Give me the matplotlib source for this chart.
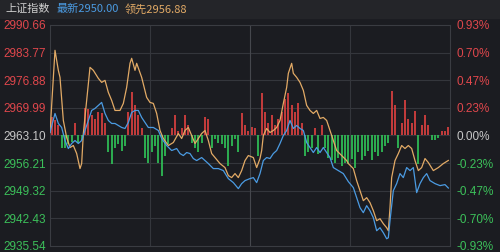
import numpy as np
import matplotlib
matplotlib.use("Agg")
import matplotlib.pyplot as plt

PREV_CLOSE = 2963.10
PRICE_TICKS = [2990.66, 2983.77, 2976.88, 2969.99, 2963.10, 2956.21, 2949.32, 2942.43, 2935.54]
PCT_LABELS = ["0.93%", "0.70%", "0.47%", "0.23%", "0.00%", "-0.23%", "-0.47%", "-0.70%", "-0.93%"]

# 领先 (leading index) - minute, price
lead_t = [0, 3, 5, 6, 8, 10, 12, 14, 16, 18, 19, 20, 22, 24, 26, 29, 31, 33, 35, 37, 39, 42, 44, 46,
          48, 49, 51, 52, 55, 58, 60, 62, 64, 66, 68, 71, 74, 77, 79, 81, 83, 85, 87, 89, 91, 93, 95,
          97, 99, 102, 105, 107, 109, 111, 113, 115, 117, 119, 122, 124, 126, 127, 128, 130, 132, 134,
          136, 138, 140, 142, 143, 145, 146, 148, 150, 152, 154, 156, 158, 160, 162, 164, 166, 168,
          170, 172, 175, 178, 179, 182, 184, 186, 188, 190, 192, 194, 196, 198, 200, 202, 203, 204,
          205, 207, 209, 211, 213, 215, 217, 219, 221, 223, 225, 227, 230, 233, 236, 239]
lead = [2963.85, 2984.35, 2979.35, 2977.6, 2966.85, 2962.6, 2960.1, 2960.6, 2958.6, 2954.85, 2956.1,
        2963.6, 2971.85, 2980.1, 2979.35, 2977.35, 2976.35, 2976.85, 2973.85, 2971.85, 2969.35,
        2969.35, 2971.1, 2975.1, 2981.1, 2982.35, 2979.35, 2981.1, 2977.6, 2972.6, 2971.35, 2971.1,
        2968.6, 2964.35, 2962.35, 2960.6, 2961.35, 2963.6, 2962.35, 2964.35, 2965.1, 2963.1, 2961.1,
        2962.35, 2963.6, 2964.35, 2961.85, 2958.6, 2957.6, 2956.1, 2955.1, 2953.1, 2952.6, 2953.6,
        2952.6, 2954.35, 2956.85, 2958.1, 2957.6, 2955.1, 2957.35, 2959.35, 2963.1, 2964.85, 2963.85,
        2964.35, 2965.1, 2966.85, 2971.1, 2975.1, 2978.6, 2981.1, 2978.6, 2977.6, 2976.35, 2974.35,
        2970.6, 2969.35, 2968.6, 2969.35, 2967.35, 2967.6, 2966.85, 2964.35, 2961.85, 2959.35,
        2958.1, 2956.85, 2956.1, 2954.85, 2951.85, 2949.35, 2946.85, 2947.6, 2946.35, 2944.35,
        2941.85, 2942.35, 2941.1, 2940.1, 2939.35, 2945.1, 2952.6, 2956.85, 2958.6, 2960.6, 2959.85,
        2960.6, 2959.85, 2956.85, 2954.35, 2955.1, 2957.35, 2956.35, 2954.35, 2955.1, 2956.1, 2956.88]

# 最新 (last price) - minute, price
last_t = [0, 3, 5, 7, 9, 11, 13, 15, 17, 19, 21, 23, 25, 27, 29, 31, 33, 35, 37, 39, 41, 43, 45, 47,
          49, 51, 53, 55, 57, 59, 62, 65, 67, 70, 73, 76, 78, 80, 82, 84, 86, 88, 91, 93, 95, 98, 101,
          104, 107, 110, 113, 115, 117, 120, 122, 124, 126, 128, 130, 132, 134, 136, 138, 140, 142,
          144, 146, 148, 150, 152, 154, 156, 158, 160, 162, 164, 166, 168, 170, 173, 176, 179, 182,
          184, 186, 188, 190, 192, 194, 196, 198, 200, 202, 203, 204, 206, 208, 210, 212, 214, 216,
          218, 220, 222, 224, 226, 228, 231, 234, 237, 239]
last = [2963.85, 2968.6, 2966.1, 2965.1, 2961.85, 2959.85, 2961.1, 2961.85, 2961.1, 2961.85, 2964.35,
        2966.85, 2969.35, 2969.85, 2970.6, 2971.35, 2968.6, 2966.85, 2966.1, 2966.1, 2965.6, 2965.1,
        2964.85, 2966.35, 2968.85, 2969.35, 2969.35, 2967.6, 2966.35, 2965.1, 2965.1, 2964.35,
        2962.35, 2960.6, 2959.35, 2959.85, 2958.6, 2958.1, 2958.85, 2958.6, 2957.35, 2956.85,
        2957.6, 2956.85, 2956.1, 2954.85, 2954.85, 2954.35, 2952.35, 2951.35, 2949.85, 2951.1,
        2951.85, 2952.35, 2952.6, 2951.35, 2953.6, 2956.85, 2957.6, 2957.35, 2958.6, 2959.35,
        2961.1, 2963.1, 2964.35, 2966.85, 2964.85, 2965.6, 2964.85, 2964.35, 2961.35, 2960.1,
        2958.85, 2960.1, 2958.85, 2960.1, 2958.85, 2957.6, 2955.1, 2954.35, 2953.6, 2951.6, 2950.1,
        2947.6, 2945.1, 2943.85, 2945.6, 2944.35, 2942.6, 2939.35, 2940.1, 2938.85, 2937.35,
        2937.6, 2941.85, 2949.35, 2951.1, 2953.6, 2952.6, 2955.1, 2954.35, 2955.1, 2948.85,
        2951.1, 2952.6, 2953.6, 2951.85, 2951.1, 2950.6, 2950.85, 2950.00]

# buy/sell pressure bars, one every 2 minutes (index points)
flow = [4.5, 3.8, 2.5, -3.2, -3.0, -2.2, -1.5, 3.2, -1.8, -1.2,
        6.8, 6.5, 5.0, 4.2, 5.8, 5.5, 3.2, -4.2, -7.0, -3.2,
        -2.0, -3.8, -2.5, 5.8, 10.8, 7.5, 5.0, 1.8, -5.5, -6.8,
        -4.2, -2.5, -6.8, -10.0, -5.0, -2.0, 1.8, 5.0, 1.0, 1.8,
        5.0, 2.5, -1.8, -3.2, -4.2, -1.8, 4.5, 4.2, -3.0, -0.8,
        -1.8, -2.0, -3.2, -7.5, -2.5, -0.8, -4.2, 5.5, 2.5, 1.2,
        2.0, 1.8, -5.0, 10.5, 5.8, 3.2, 5.0, 2.5, 4.2, 5.8,
        9.2, 10.5, 7.5, 5.8, 8.2, 3.2, -5.0, -4.2, -3.2, 1.8,
        -4.5, 2.5, -3.2, -5.5, -6.2, -6.8, -5.5, -7.5, -6.8, -7.0,
        -5.8, -8.2, -4.2, -6.2, -5.0, -3.8, -6.2, -4.2, -5.0, -4.2,
        -2.5, -1.8, 11.2, 7.5, -3.0, 3.2, 8.8, 4.2, 3.0, 6.2,
        -7.0, 2.5, 5.0, 2.5, -1.2, -1.0, -0.5, 1.2, 1.0, 2.0]

BG = "#1b1c21"
HEADER = "#242529"
GRID = "#34363c"
RED = "#e0474c"
GREEN = "#3cc05a"
NEUTRAL = "#c8c8c8"

fig = plt.figure(figsize=(5.0, 2.52), dpi=100, facecolor=BG)
fig.patches.append(plt.Rectangle((0, 1 - 18 / 252), 1, 18 / 252, transform=fig.transFigure,
                                 color=HEADER, zorder=0))
ax = fig.add_axes([0.1, 6 / 252, 0.8, 221 / 252])
ax.set_facecolor(BG)

bar_t = np.arange(len(flow)) * 2 + 1
flow = np.array(flow)
ax.bar(bar_t, flow, width=1.25, bottom=PREV_CLOSE,
       color=np.where(flow >= 0, "#d8403f", "#2fbf56"), alpha=0.88, linewidth=0, zorder=2)
ax.plot(lead_t, lead, color="#e2aa66", linewidth=0.9, zorder=3)
ax.plot(last_t, last, color="#4b9be2", linewidth=0.9, zorder=4)

ax.set_xlim(0, 240)
ax.set_ylim(PRICE_TICKS[-1], PRICE_TICKS[0])
for p in PRICE_TICKS[1:-1]:
    ax.axhline(p, color=GRID, linewidth=0.8, zorder=1)
for m in (60, 120, 180):
    ax.axvline(m, color="#45474d" if m == 120 else GRID, linewidth=0.8, zorder=1)
for s in ax.spines.values():
    s.set_color("#3a3c42")
    s.set_linewidth(0.8)
ax.set_xticks([])

colors = [RED] * 4 + [NEUTRAL] + [GREEN] * 4
ax.set_yticks(PRICE_TICKS)
ax.set_yticklabels([f"{p:.2f}" for p in PRICE_TICKS], family="Liberation Sans", fontsize=8.5)
ax.tick_params(axis="y", length=0, pad=3)
for lbl, c in zip(ax.get_yticklabels(), colors):
    lbl.set_color(c)

ax2 = ax.twinx()
ax2.set_ylim(ax.get_ylim())
ax2.set_yticks(PRICE_TICKS)
ax2.set_yticklabels(PCT_LABELS, family="Liberation Sans", fontsize=8.5)
ax2.tick_params(axis="y", length=0, pad=5)
for lbl, c in zip(ax2.get_yticklabels(), colors):
    lbl.set_color(c)
for s in ax2.spines.values():
    s.set_visible(False)

fam = ["Noto Sans CJK SC", "DejaVu Sans"]
y_head = 1 - 9 / 252
fig.text(5 / 500, y_head, "上证指数", color="#d0d0d0", fontsize=8, family=fam, va="center")
fig.text(57 / 500, y_head, "最新2950.00", color="#4b9be2", fontsize=8, family=fam, va="center")
fig.text(125 / 500, y_head, "领先2956.88", color="#e2aa66", fontsize=8, family=fam, va="center")

fig.savefig("out.png", dpi=100, facecolor=BG)
